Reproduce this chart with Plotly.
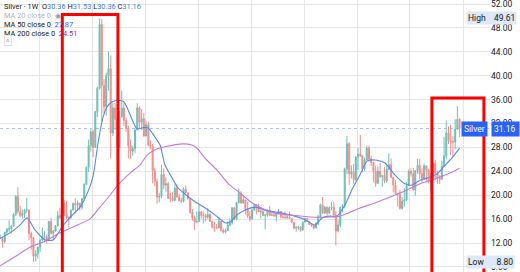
import pandas as pd
import plotly.graph_objects as go

# Monthly OHLC (Jul 2007 .. Nov 2024)
opens = [12.9, 12.9, 12.2, 13.8, 14.3, 14.4,
         14.8, 16.8, 19.8, 17.3, 16.6, 16.9, 17.5, 17.5, 13.6, 12.9, 9.8, 10.2,
         11.3, 12.5, 13.1, 13.1, 12.5, 15.6, 13.6, 14.0, 14.9, 16.6, 16.2, 18.6,
         16.9, 16.2, 16.2, 17.5, 18.6, 18.4, 18.7, 18.0, 19.4, 21.8, 24.7, 28.3,
         30.6, 28.0, 34.0, 37.9, 48.6, 38.4, 34.8, 40.0, 41.2, 30.4, 34.6, 32.7,
         27.9, 33.1, 34.6, 32.5, 31.2, 28.3, 27.4, 27.8, 30.9, 34.6, 32.2, 32.8,
         29.9, 31.8, 28.4, 28.2, 24.1, 22.3, 19.7, 19.8, 23.5, 21.7, 21.9, 19.5,
         19.5, 19.1, 21.2, 19.7, 19.1, 19.0, 21.0, 20.4, 19.4, 17.1, 16.2, 15.5,
         15.6, 17.2, 16.6, 16.6, 16.3, 16.8, 15.6, 14.7, 14.6, 14.5, 15.6, 14.1,
         13.8, 14.1, 15.0, 15.4, 17.9, 16.0, 18.7, 20.3, 18.7, 19.2, 17.6, 16.5,
         16.0, 17.5, 18.4, 18.2, 17.2, 17.3, 16.6, 16.7, 17.5, 16.6, 16.7, 16.5,
         16.9, 17.3, 16.4, 16.3, 16.2, 16.4, 16.1, 15.5, 14.5, 14.6, 14.7, 14.2,
         15.5, 16.1, 15.6, 15.1, 14.9, 14.5, 15.3, 16.4, 18.4, 17.0, 18.0, 17.0,
         17.9, 18.0, 16.7, 14.0, 15.0, 18.0, 18.2, 24.4, 28.6, 23.6, 23.9, 22.6,
         26.4, 26.9, 26.6, 24.4, 25.9, 27.9, 26.1, 25.5, 24.0, 22.0, 24.0, 23.1,
         23.3, 22.4, 24.3, 25.1, 23.0, 21.7, 20.3, 20.2, 17.8, 19.0, 19.2, 21.6,
         24.0, 23.6, 20.9, 24.1, 25.0, 23.6, 22.8, 24.9, 24.2, 22.3, 22.9, 25.3,
         23.8, 22.9, 22.7, 24.9, 26.6, 30.4, 29.1, 29.0, 28.9, 31.1, 32.7]
highs = [13.4, 13.0, 13.8, 14.5, 15.8, 15.0,
         17.0, 20.0, 21.3, 18.2, 17.6, 17.7, 19.5, 17.7, 13.9, 12.9, 10.8, 11.4,
         12.7, 14.6, 14.0, 13.4, 15.7, 16.2, 14.2, 15.0, 17.4, 17.9, 19.0, 19.2,
         19.0, 16.5, 17.6, 18.8, 19.5, 19.1, 18.7, 19.5, 22.0, 24.8, 29.3, 31.0,
         31.0, 34.0, 38.2, 49.6, 49.5, 39.4, 40.5, 44.0, 43.4, 35.4, 35.4, 33.3,
         34.1, 37.5, 35.4, 33.0, 31.6, 29.3, 28.3, 31.2, 35.4, 34.9, 34.4, 33.8,
         32.5, 32.3, 29.2, 28.6, 24.6, 22.8, 20.4, 25.1, 24.5, 23.0, 22.2, 20.4,
         20.5, 21.8, 21.9, 20.2, 19.6, 21.3, 21.6, 20.5, 19.5, 17.7, 16.6, 17.3,
         18.5, 17.3, 17.3, 16.9, 17.8, 16.9, 15.7, 15.5, 15.2, 16.3, 15.7, 14.4,
         14.4, 15.6, 16.1, 18.0, 18.0, 18.9, 21.1, 20.7, 20.0, 19.3, 18.9, 17.3,
         17.8, 18.5, 18.5, 18.6, 17.6, 17.7, 16.9, 17.6, 18.2, 17.4, 17.3, 17.1,
         17.7, 17.3, 16.8, 17.3, 16.9, 17.3, 16.1, 15.5, 14.8, 14.9, 14.8, 15.6,
         16.2, 16.2, 15.6, 15.3, 14.9, 15.5, 16.7, 18.6, 19.7, 18.2, 18.1, 18.1,
         18.9, 18.9, 17.3, 15.8, 18.0, 18.5, 24.6, 29.9, 28.9, 25.0, 25.2, 26.5,
         27.9, 30.1, 26.6, 26.3, 28.3, 28.3, 26.6, 25.6, 24.9, 24.8, 25.4, 23.4,
         24.7, 25.1, 27.0, 26.2, 23.0, 22.5, 20.4, 20.9, 19.7, 21.2, 22.2, 24.3,
         24.5, 24.6, 24.2, 26.1, 26.1, 24.5, 25.3, 25.0, 24.4, 23.7, 25.5, 25.9,
         24.1, 23.4, 25.8, 29.8, 32.5, 31.5, 31.8, 29.9, 32.7, 34.9, 32.9]
lows = [12.7, 11.2, 12.0, 13.3, 13.8, 13.6,
        14.8, 16.5, 16.9, 16.3, 16.1, 16.2, 17.0, 12.5, 10.9, 8.8, 8.9, 9.4,
        10.5, 12.3, 12.1, 11.9, 12.4, 13.4, 12.5, 13.9, 14.8, 16.1, 16.2, 16.5,
        16.0, 14.6, 16.1, 17.5, 17.0, 17.6, 17.4, 17.6, 19.1, 21.8, 23.9, 27.3,
        26.4, 27.9, 33.1, 37.7, 32.3, 33.6, 33.3, 37.5, 26.1, 29.9, 30.9, 26.2,
        27.9, 33.0, 31.6, 30.6, 26.1, 26.1, 26.6, 27.1, 30.9, 31.2, 30.9, 29.8,
        29.9, 28.2, 27.7, 22.0, 21.5, 18.6, 18.8, 19.5, 21.0, 20.6, 19.4, 18.8,
        19.0, 19.1, 19.6, 19.0, 18.7, 18.8, 20.4, 19.3, 16.9, 15.7, 14.2, 15.3,
        15.6, 16.1, 15.3, 15.6, 16.0, 15.6, 14.4, 13.9, 14.3, 14.5, 13.9, 13.6,
        13.6, 14.0, 14.8, 15.1, 15.8, 15.8, 18.7, 18.6, 18.6, 16.8, 16.2, 15.6,
        15.9, 17.4, 16.8, 17.2, 16.1, 16.5, 14.3, 16.4, 16.6, 16.5, 16.5, 15.6,
        16.9, 16.1, 16.1, 16.1, 16.1, 16.1, 15.3, 14.3, 13.9, 14.2, 13.9, 14.0,
        15.4, 15.6, 15.0, 14.7, 14.3, 14.5, 15.0, 16.1, 16.9, 16.9, 16.6, 16.8,
        17.5, 16.6, 11.6, 13.8, 14.6, 17.1, 17.8, 23.5, 21.7, 22.8, 21.9, 22.4,
        24.2, 26.4, 23.8, 24.0, 25.8, 25.6, 24.9, 22.2, 21.4, 21.9, 22.9, 21.4,
        22.0, 22.1, 24.2, 22.8, 20.5, 20.2, 18.1, 17.6, 17.6, 18.1, 19.0, 21.6,
        23.1, 20.7, 19.9, 23.6, 22.7, 22.1, 22.5, 22.2, 22.0, 20.7, 22.5, 22.5,
        21.9, 21.9, 22.5, 24.8, 26.0, 28.6, 26.7, 26.5, 27.7, 30.9, 29.7]
closes = [12.9, 12.2, 13.8, 14.3, 14.4, 14.8,
          16.8, 19.8, 17.3, 16.6, 16.9, 17.5, 17.5, 13.6, 12.9, 9.8, 10.2, 11.3,
          12.5, 13.1, 13.1, 12.5, 15.6, 13.6, 14.0, 14.9, 16.6, 16.2, 18.6, 16.9,
          16.2, 16.2, 17.5, 18.6, 18.4, 18.7, 18.0, 19.4, 21.8, 24.7, 28.3, 30.6,
          28.0, 34.0, 37.9, 48.6, 38.4, 34.8, 40.0, 41.2, 30.4, 34.6, 32.7, 27.9,
          33.1, 34.6, 32.5, 31.2, 28.3, 27.4, 27.8, 30.9, 34.6, 32.2, 32.8, 29.9,
          31.8, 28.4, 28.2, 24.1, 22.3, 19.7, 19.8, 23.5, 21.7, 21.9, 19.5, 19.5,
          19.1, 21.2, 19.7, 19.1, 19.0, 21.0, 20.4, 19.4, 17.1, 16.2, 15.5, 15.6,
          17.2, 16.6, 16.6, 16.3, 16.8, 15.6, 14.7, 14.6, 14.5, 15.6, 14.1, 13.8,
          14.1, 15.0, 15.4, 17.9, 16.0, 18.7, 20.3, 18.7, 19.2, 17.6, 16.5, 16.0,
          17.5, 18.4, 18.2, 17.2, 17.3, 16.6, 16.7, 17.5, 16.6, 16.7, 16.5, 16.9,
          17.3, 16.4, 16.3, 16.2, 16.4, 16.1, 15.5, 14.5, 14.6, 14.7, 14.2, 15.5,
          16.1, 15.6, 15.1, 14.9, 14.5, 15.3, 16.4, 18.4, 17.0, 18.0, 17.0, 17.9,
          18.0, 16.7, 14.0, 15.0, 18.0, 18.2, 24.4, 28.6, 23.6, 23.9, 22.6, 26.4,
          26.9, 26.6, 24.4, 25.9, 27.9, 26.1, 25.5, 24.0, 22.0, 24.0, 23.1, 23.3,
          22.4, 24.3, 25.1, 23.0, 21.7, 20.3, 20.2, 17.8, 19.0, 19.2, 21.6, 24.0,
          23.6, 20.9, 24.1, 25.0, 23.6, 22.8, 24.9, 24.2, 22.3, 22.9, 25.3, 23.8,
          22.9, 22.7, 24.9, 26.6, 30.4, 29.1, 29.0, 28.9, 31.1, 32.7, 31.16]
dates = pd.date_range("2007-07-01", periods=len(closes), freq="MS") + pd.Timedelta(days=14)

ma50_dates = ["2007-07-13", "2007-11-28", "2008-04-12", "2008-07-19", "2008-11-06", "2009-03-26",
              "2009-07-13", "2009-11-14", "2010-03-04", "2010-07-19", "2010-11-06", "2011-01-15",
              "2011-03-11", "2011-04-20", "2011-06-03", "2011-07-27", "2011-10-01", "2011-12-24",
              "2012-03-17", "2012-05-11", "2012-07-19", "2012-09-12", "2012-12-01", "2013-02-10",
              "2013-05-19", "2013-07-27", "2013-10-01", "2014-01-08", "2014-04-02", "2014-07-05",
              "2014-11-21", "2015-04-06", "2015-08-22", "2016-01-08", "2016-03-17", "2016-06-21",
              "2016-10-08", "2017-02-24", "2017-07-13", "2017-11-28", "2018-04-12", "2018-08-28",
              "2019-01-15", "2019-06-03", "2019-09-06", "2019-12-24", "2020-04-01", "2020-07-19",
              "2020-10-22", "2021-02-10", "2021-05-19", "2021-09-06", "2022-01-22", "2022-06-07",
              "2022-10-22", "2023-01-30", "2023-05-19", "2023-10-01", "2024-01-22", "2024-04-27",
              "2024-07-31", "2024-11-15"]
ma50_values = [12.8, 13.7, 15.0, 16.2, 14.2, 12.5,
               12.5, 14.7, 16.3, 18.0, 20.6, 23.2,
               27.6, 30.6, 33.1, 34.8, 35.6, 35.9,
               35.6, 34.3, 32.3, 31.1, 31.3, 31.3,
               29.7, 28.4, 25.1, 22.9, 21.2, 20.2,
               18.9, 17.9, 16.7, 15.4, 15.5, 16.7,
               17.5, 18.0, 17.5, 17.2, 16.9, 16.5,
               15.9, 15.0, 16.2, 16.5, 16.5, 18.4,
               20.9, 23.4, 25.7, 25.9, 25.4, 23.4,
               21.9, 21.7, 22.5, 23.0, 23.7, 25.0,
               26.2, 27.87]

ma200_dates = ["2007-07-13", "2008-02-03", "2008-08-28", "2009-03-26", "2009-10-16", "2010-05-11",
               "2010-12-01", "2011-04-20", "2011-09-06", "2011-12-09", "2012-06-07", "2012-10-22",
               "2013-01-30", "2013-05-19", "2013-10-01", "2014-06-07", "2014-10-08", "2014-12-16",
               "2015-04-06", "2015-09-20", "2016-02-17", "2016-07-31", "2016-12-16", "2017-05-04",
               "2017-11-28", "2018-08-28", "2019-03-26", "2019-12-24", "2020-05-11", "2020-08-28",
               "2021-02-10", "2021-09-06", "2022-04-01", "2022-10-22", "2023-05-19", "2023-12-09",
               "2024-07-05", "2024-11-15"]
ma200_values = [8.2, 9.7, 11.3, 12.3, 13.7, 14.85,
                16.0, 18.0, 20.0, 21.5, 23.7, 25.05,
                26.7, 27.6, 28.1, 28.6, 28.4, 27.9,
                26.2, 24.2, 22.0, 20.4, 19.0, 18.0,
                17.0, 16.6, 16.35, 16.35, 16.5, 17.0,
                17.85, 18.7, 19.7, 20.7, 21.9, 22.7,
                23.7, 24.51]

last_price = 31.16
high_val = 49.61
low_val = 8.80
y_ticks = [8, 12, 16, 20, 24, 28, 32, 36, 40, 44, 48, 52]
year_lines = ["2009-01-01", "2011-01-01", "2013-01-01", "2015-01-01", "2017-01-01",
              "2019-01-01", "2021-01-01", "2023-01-01", "2025-01-01"]
boxes = [("2009-11-17", "2011-12-24", 50.24), ("2023-10-30", "2025-10-16", 36.27)]

W, H, PW = 520, 272, 490
FONT = "Roboto"

fig = go.Figure()
fig.add_trace(go.Candlestick(
    x=dates, open=opens, high=highs, low=lows, close=closes,
    increasing=dict(line=dict(color="#6cbfb4", width=1), fillcolor="#6cbfb4"),
    decreasing=dict(line=dict(color="#f38d8b", width=1), fillcolor="#f38d8b"),
    whiskerwidth=0, showlegend=False, hoverinfo="skip"))
fig.add_trace(go.Scatter(x=ma50_dates, y=ma50_values, mode="lines",
                         line=dict(color="#5b87f0", width=1.1, shape="spline", smoothing=0.6),
                         showlegend=False, hoverinfo="skip"))
fig.add_trace(go.Scatter(x=ma200_dates, y=ma200_values, mode="lines",
                         line=dict(color="#c47ad6", width=1.1, shape="spline", smoothing=0.6),
                         showlegend=False, hoverinfo="skip"))

# current price line
fig.add_shape(type="line", xref="paper", x0=0, x1=1, yref="y", y0=last_price, y1=last_price,
              line=dict(color="rgba(41,98,255,0.4)", width=1, dash="dot"), layer="below")

for x0, x1, top in boxes:
    fig.add_shape(type="rect", xref="x", yref="y", x0=x0, x1=x1, y0=0, y1=top,
                  line=dict(color="#ff0000", width=3), fillcolor="rgba(0,0,0,0)")

def px(x):
    return x / PW

def py(y):
    return 1 - y / H

ann = []
legend_lines = [
    (6, "<span style='color:#131722'>Silver · 1W</span>&nbsp;&nbsp;"
        "<span style='color:#131722'>O</span><span style='color:#3f7ff0'>30.36</span> "
        "<span style='color:#131722'>H</span><span style='color:#3f7ff0'>31.53</span> "
        "<span style='color:#131722'>L</span><span style='color:#3f7ff0'>30.36</span> "
        "<span style='color:#131722'>C</span><span style='color:#3f7ff0'>31.16</span>"),
    (15, "<span style='color:#b2b5be'>MA 20 close 0</span>&nbsp;&nbsp;<span style='color:#9598a1'>◉</span>"),
    (24, "<span style='color:#131722'>MA 50 close 0</span>&nbsp;&nbsp;<span style='color:#2962ff'>27.87</span>"),
    (33, "<span style='color:#131722'>MA 200 close 0</span>&nbsp;&nbsp;<span style='color:#9c27b0'>24.51</span>"),
]
for yy, txt in legend_lines:
    ann.append(dict(xref="paper", yref="paper", x=px(2), y=py(yy), xanchor="left", yanchor="middle",
                    text=txt, showarrow=False, font=dict(family=FONT, size=7.4)))
ann.append(dict(xref="paper", yref="paper", x=px(4), y=py(40.5), xanchor="left", yanchor="middle",
                text="<span style='color:#131722'>˄</span>", showarrow=False, font=dict(family=FONT, size=6),
                bordercolor="#e0e3eb", borderwidth=1, borderpad=1, bgcolor="white"))

lab_bg = "#dde8f8"
ann.append(dict(xref="paper", yref="y", x=px(466), y=high_val, xanchor="left", yanchor="middle",
                text="High&nbsp;&nbsp;&nbsp;&nbsp;49.61", showarrow=False, bgcolor=lab_bg, borderpad=1,
                font=dict(family=FONT, size=8.5, color="#131722")))
ann.append(dict(xref="paper", yref="y", x=px(466), y=low_val, xanchor="left", yanchor="middle",
                text="Low&nbsp;&nbsp;&nbsp;&nbsp;&nbsp;&nbsp;8.80", showarrow=False, bgcolor=lab_bg, borderpad=1,
                font=dict(family=FONT, size=8.5, color="#131722")))
ann.append(dict(xref="paper", yref="y", x=px(461), y=last_price, xanchor="left", yanchor="middle",
                text="Silver", showarrow=False, bgcolor="#2962ff", borderpad=2,
                font=dict(family=FONT, size=8.5, color="white")))
ann.append(dict(xref="paper", yref="y", x=px(491), y=last_price, xanchor="left", yanchor="middle",
                text="31.16&nbsp;", showarrow=False, bgcolor="#2962ff", borderpad=2,
                font=dict(family=FONT, size=8.5, color="white")))

fig.update_layout(
    width=W, height=H, autosize=False,
    margin=dict(l=0, r=W - PW, t=0, b=0),
    paper_bgcolor="white", plot_bgcolor="white",
    font=dict(family=FONT, size=8.5, color="#131722"),
    annotations=ann, showlegend=False,
    xaxis=dict(type="date", range=["2007-07-12", "2026-01-08"], tickvals=year_lines,
               showticklabels=False, showgrid=True, gridcolor="#e3e5ea", gridwidth=1,
               zeroline=False, rangeslider=dict(visible=False), fixedrange=True, showline=False),
    yaxis=dict(side="right", range=[7.15, 52.67], tickvals=y_ticks, tickformat=".2f",
               showgrid=True, gridcolor="#e3e5ea", gridwidth=1, zeroline=False, ticks="",
               ticklabeloverflow="allow",
               tickfont=dict(family=FONT, size=8.5, color="#131722"), fixedrange=True,
               showline=False),
)

fig.write_html("out.html")
